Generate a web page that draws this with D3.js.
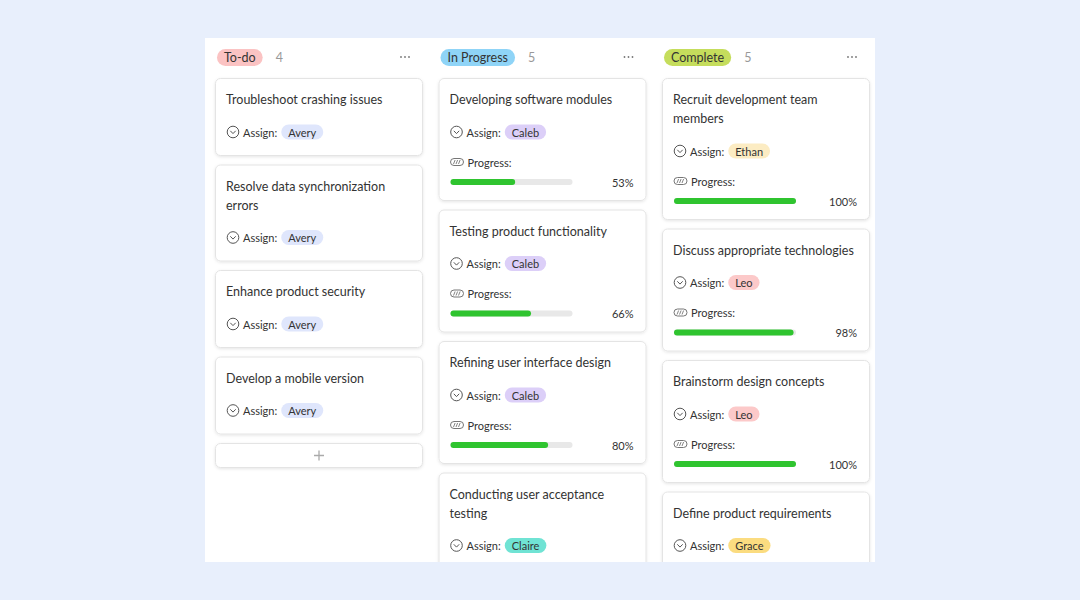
<!DOCTYPE html>
<html>
<head>
<meta charset="utf-8">
<script src="https://cdn.jsdelivr.net/npm/d3@7"></script>
<style>
  body { margin: 0; background: #e8effc; }
  svg { display: block; font-family: Lato, "Noto Sans", sans-serif; }
</style>
</head>
<body>
<svg id="board" width="1080" height="600"></svg>
<script>
// board columns
const columnNames = ["To-do", "In Progress", "Complete"];
const columnCounts = [4, 5, 5];
const columnColors = ["#fbc3c3", "#8fd4f7", "#c5dd5c"];

// cards per column (only the visible ones)
const todoTitles = ["Troubleshoot crashing issues", "Resolve data synchronization errors", "Enhance product security", "Develop a mobile version"];
const todoAssignees = ["Avery", "Avery", "Avery", "Avery"];
const todoProgress = [null, null, null, null];

const doingTitles = ["Developing software modules", "Testing product functionality", "Refining user interface design", "Conducting user acceptance testing"];
const doingAssignees = ["Caleb", "Caleb", "Caleb", "Claire"];
const doingProgress = [53, 66, 80, null];

const doneTitles = ["Recruit development team members", "Discuss appropriate technologies", "Brainstorm design concepts", "Define product requirements"];
const doneAssignees = ["Ethan", "Leo", "Leo", "Grace"];
const doneProgress = [100, 98, 100, null];

const assigneeNames = ["Avery", "Caleb", "Claire", "Ethan", "Leo", "Grace"];
const assigneeColors = ["#dfe6fc", "#dccff8", "#70e3d4", "#fcecc3", "#fcc9c9", "#fbdc80"];

const svg = d3.select("#board");
const chipColor = d3.scaleOrdinal().domain(assigneeNames).range(assigneeColors);

const colX = d3.scaleBand().domain(columnNames).range([215, 870]).paddingInner(15.5 / 223.5);
const cardW = colX.bandwidth();
const barW = d3.scaleLinear().domain([0, 100]).range([0, 122]);

const columns = [
  {titles: todoTitles, who: todoAssignees, prog: todoProgress, add: true},
  {titles: doingTitles, who: doingAssignees, prog: doingProgress},
  {titles: doneTitles, who: doneAssignees, prog: doneProgress}
];

const titleSize = 12.5, smallSize = 11;

// shadow + clip
const defs = svg.append("defs");
const f = defs.append("filter").attr("id", "sh").attr("x", "-10%").attr("y", "-10%").attr("width", "120%").attr("height", "130%");
f.append("feDropShadow").attr("dx", 0).attr("dy", 1).attr("stdDeviation", 1.6)
  .attr("flood-color", "#000").attr("flood-opacity", 0.1);
defs.append("clipPath").attr("id", "panelClip")
  .append("rect").attr("x", 205).attr("y", 38).attr("width", 670).attr("height", 524);

svg.append("rect").attr("x", 205).attr("y", 38).attr("width", 670).attr("height", 524).attr("fill", "#fff");
const board = svg.append("g").attr("clip-path", "url(#panelClip)");

function wrap(text, maxW) {
  const words = text.split(" ");
  const tmp = svg.append("text").attr("font-size", titleSize);
  const lines = [];
  let cur = "";
  words.forEach(w => {
    const test = cur ? cur + " " + w : w;
    tmp.text(test);
    if (tmp.node().getComputedTextLength() > maxW && cur) { lines.push(cur); cur = w; }
    else cur = test;
  });
  lines.push(cur);
  tmp.remove();
  return lines;
}

const DY = "0.42em";

columnNames.forEach((name, ci) => {
  const x0 = colX(name);
  const col = columns[ci];
  const g = board.append("g");

  // header
  const pillText = g.append("text").attr("x", x0 + 9).attr("y", 57).attr("dy", DY)
    .attr("font-size", titleSize).attr("fill", "#333").text(name);
  const tw = pillText.node().getComputedTextLength();
  g.insert("rect", "text").attr("x", x0 + 2).attr("y", 49).attr("width", tw + 14).attr("height", 17)
    .attr("rx", 8.5).attr("fill", columnColors[ci]);
  g.append("text").attr("x", x0 + tw + 29).attr("y", 57).attr("dy", DY)
    .attr("font-size", titleSize).attr("fill", "#999").text(columnCounts[ci]);
  [-4, 0, 4].forEach(d => g.append("circle").attr("cx", x0 + cardW - 18 + d).attr("cy", 57).attr("r", 0.9).attr("fill", "#777"));

  let y = 78;
  col.titles.forEach((t, i) => {
    const lines = wrap(t, 186);
    const titleY = y + 21;
    const assignY = titleY + (lines.length - 1) * 19 + 33;
    const hasProg = col.prog[i] !== null;
    const h = (assignY - y) + (hasProg ? 69 : 24);
    const c = g.append("g");
    c.append("rect").attr("x", x0 + 0.5).attr("y", y + 0.5).attr("width", cardW - 1).attr("height", h - 1)
      .attr("rx", 5).attr("fill", "#fff").attr("stroke", "#e4e4e4").attr("filter", "url(#sh)");
    lines.forEach((ln, li) => c.append("text").attr("x", x0 + 11).attr("y", titleY + li * 19).attr("dy", DY)
      .attr("font-size", titleSize).attr("fill", "#333").text(ln));

    // assign row
    const ix = x0 + 18;
    c.append("circle").attr("cx", ix).attr("cy", assignY).attr("r", 5.8).attr("fill", "none").attr("stroke", "#555").attr("stroke-width", 1);
    c.append("path").attr("d", `M${ix - 2.7},${assignY - 1.2} L${ix},${assignY + 1.6} L${ix + 2.7},${assignY - 1.2}`)
      .attr("fill", "none").attr("stroke", "#555").attr("stroke-width", 1);
    const lab = c.append("text").attr("x", x0 + 28).attr("y", assignY).attr("dy", DY)
      .attr("font-size", smallSize).attr("fill", "#333").text("Assign:");
    const lw = lab.node().getComputedTextLength();
    const chipX = x0 + 28 + lw + 4;
    const chipT = c.append("text").attr("x", chipX + 7).attr("y", assignY).attr("dy", DY)
      .attr("font-size", smallSize).attr("fill", "#333").text(col.who[i]);
    const cw = chipT.node().getComputedTextLength();
    c.insert("rect", "text:last-child").attr("x", chipX).attr("y", assignY - 7.5).attr("width", cw + 14).attr("height", 15)
      .attr("rx", 7.5).attr("fill", chipColor(col.who[i]));

    if (hasProg) {
      const py = assignY + 30;
      const px = x0 + 12;
      c.append("rect").attr("x", px).attr("y", py - 3.5).attr("width", 13).attr("height", 7).attr("rx", 3.5)
        .attr("fill", "none").attr("stroke", "#666").attr("stroke-width", 0.9);
      [0, 2.5, 5].forEach(d => c.append("line").attr("x1", px + 3 + d).attr("y1", py + 2).attr("x2", px + 4.6 + d).attr("y2", py - 2)
        .attr("stroke", "#666").attr("stroke-width", 0.8));
      c.append("text").attr("x", x0 + 29).attr("y", py).attr("dy", DY)
        .attr("font-size", smallSize).attr("fill", "#333").text("Progress:");
      const by = py + 20;
      c.append("rect").attr("x", x0 + 12).attr("y", by - 3).attr("width", barW(100)).attr("height", 6).attr("rx", 3).attr("fill", "#e8e8e8");
      c.append("rect").attr("x", x0 + 12).attr("y", by - 3).attr("width", barW(col.prog[i])).attr("height", 6).attr("rx", 3).attr("fill", "#2fc42f");
      c.append("text").attr("x", x0 + cardW - 13).attr("y", by).attr("dy", DY).attr("text-anchor", "end")
        .attr("font-size", smallSize).attr("fill", "#333").text(col.prog[i] + "%");
    }
    y += h + 8.5;
  });

  if (col.add) {
    const a = g.append("g");
    a.append("rect").attr("x", x0 + 0.5).attr("y", y + 0.5).attr("width", cardW - 1).attr("height", 24)
      .attr("rx", 5).attr("fill", "#fff").attr("stroke", "#e4e4e4").attr("filter", "url(#sh)");
    const cx = x0 + cardW / 2, cy = y + 12.5;
    a.append("path").attr("d", `M${cx - 5},${cy} H${cx + 5} M${cx},${cy - 5} V${cy + 5}`)
      .attr("stroke", "#aaa").attr("stroke-width", 1.3);
  }
});
</script>
</body>
</html>
